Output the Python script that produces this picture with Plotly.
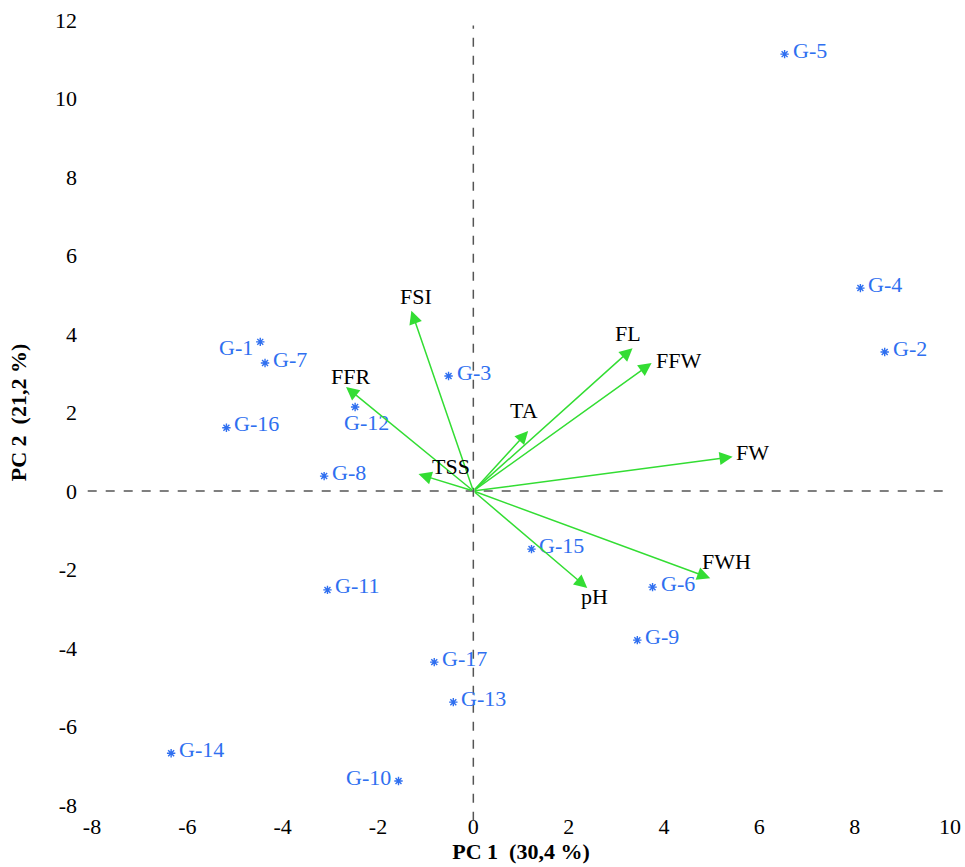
import plotly.graph_objects as go

# ---- data ----
genotypes = ["G-1", "G-2", "G-3", "G-4", "G-5", "G-6", "G-7", "G-8", "G-9",
             "G-10", "G-11", "G-12", "G-13", "G-14", "G-15", "G-16", "G-17"]
pc1_scores = [-4.47, 8.63, -0.52, 8.12, 6.53, 3.76, -4.37, -3.13, 3.44,
              -1.57, -3.06, -2.48, -0.42, -6.34, 1.22, -5.18, -0.82]
pc2_scores = [3.80, 3.54, 2.93, 5.17, 11.13, -2.45, 3.26, 0.38, -3.80,
              -7.39, -2.52, 2.14, -5.38, -6.68, -1.48, 1.61, -4.36]

variables = ["FSI", "FFR", "TSS", "TA", "FL", "FFW", "FW", "FWH", "pH"]
pc1_loadings = [-1.30, -2.67, -1.15, 1.15, 3.34, 3.74, 5.44, 4.97, 2.39]
pc2_loadings = [4.59, 2.65, 0.43, 1.53, 3.64, 3.26, 0.87, -2.22, -2.47]

x_ticks = [-8, -6, -4, -2, 0, 2, 4, 6, 8, 10]
x_tick_labels = ["-8", "-6", "-4", "-2", "0", "2", "4", "6", "8", "10"]
y_ticks = [-8, -6, -4, -2, 0, 2, 4, 6, 8, 10, 12]
y_tick_labels = ["-8", "-6", "-4", "-2", "0", "2", "4", "6", "8", "10", "12"]

# ---- styling / placement ----
BLUE = "#2f6ff0"
GREEN = "#33dd33"
FONT = "Liberation Serif"
FS = 22

# label placement for genotype labels: (xanchor, xshift, yshift)
g_place = {"G-1": ("right", -5, -6), "G-12": ("left", -13, -15),
           "G-10": ("right", -6, 4)}
default_g = ("left", 6, 4)

# variable label offsets relative to arrow tip (xshift, yshift) in px
v_place = {"FSI": (5, 14), "FFR": (4, 10), "TSS": (32, 8), "TA": (-4, 20),
           "FL": (-5, 15), "FFW": (27, 3), "FW": (20, 4), "FWH": (16, 17),
           "pH": (7, -9)}

fig = go.Figure()

fig.add_trace(go.Scatter(
    x=pc1_scores, y=pc2_scores, mode="markers",
    marker=dict(symbol="asterisk-open", size=7, color=BLUE,
                line=dict(color=BLUE, width=1.4)),
    hovertext=genotypes, showlegend=False))

annotations = []
for name, x, y in zip(genotypes, pc1_scores, pc2_scores):
    xa, xs, ys = g_place.get(name, default_g)
    annotations.append(dict(x=x, y=y, xref="x", yref="y", text=name,
                            showarrow=False, xanchor=xa, yanchor="middle",
                            xshift=xs, yshift=ys,
                            font=dict(family=FONT, size=FS, color=BLUE)))

for name, x, y in zip(variables, pc1_loadings, pc2_loadings):
    annotations.append(dict(x=x, y=y, xref="x", yref="y", ax=0, ay=0,
                            axref="x", ayref="y", text="", showarrow=True,
                            arrowhead=2, arrowsize=1.75, arrowwidth=1.5,
                            arrowcolor=GREEN, standoff=0))
    xs, ys = v_place[name]
    annotations.append(dict(x=x, y=y, xref="x", yref="y", text=name,
                            showarrow=False, xanchor="center", yanchor="middle",
                            xshift=xs, yshift=ys,
                            font=dict(family=FONT, size=FS, color="black")))

shapes = [
    dict(type="line", xref="paper", yref="y", x0=-0.005, x1=1.0, y0=0, y1=0,
         line=dict(color="#555555", width=1.5, dash="dash")),
    dict(type="line", xref="x", yref="paper", x0=0, x1=0, y0=-0.02, y1=0.993,
         line=dict(color="#555555", width=1.5, dash="dash")),
]

fig.update_layout(
    width=965, height=867,
    margin=dict(l=92, r=15, t=20, b=62),
    paper_bgcolor="white", plot_bgcolor="white",
    font=dict(family=FONT, size=FS, color="black"),
    annotations=annotations, shapes=shapes,
    xaxis=dict(range=[-8, 10.0], tickvals=x_ticks, ticktext=x_tick_labels,
               showgrid=False, zeroline=False, showline=False, ticks="",
               automargin=False, ticklabelstandoff=6,
               title=dict(text="<b>PC 1  (30,4 %)</b>", standoff=4,
                          font=dict(family=FONT, size=FS))),
    yaxis=dict(range=[-8, 12], tickvals=y_ticks, ticktext=y_tick_labels,
               showgrid=False, zeroline=False, showline=False, ticks="",
               automargin=False, ticklabelstandoff=14,
               title=dict(text="<b>PC 2  (21,2 %)</b>", standoff=22,
                          font=dict(family=FONT, size=FS))),
)

fig.write_html("out.html",
               config={"displayModeBar": False},
               post_script="document.body.style.margin='0px';"
                           "document.body.style.overflow='hidden';")
